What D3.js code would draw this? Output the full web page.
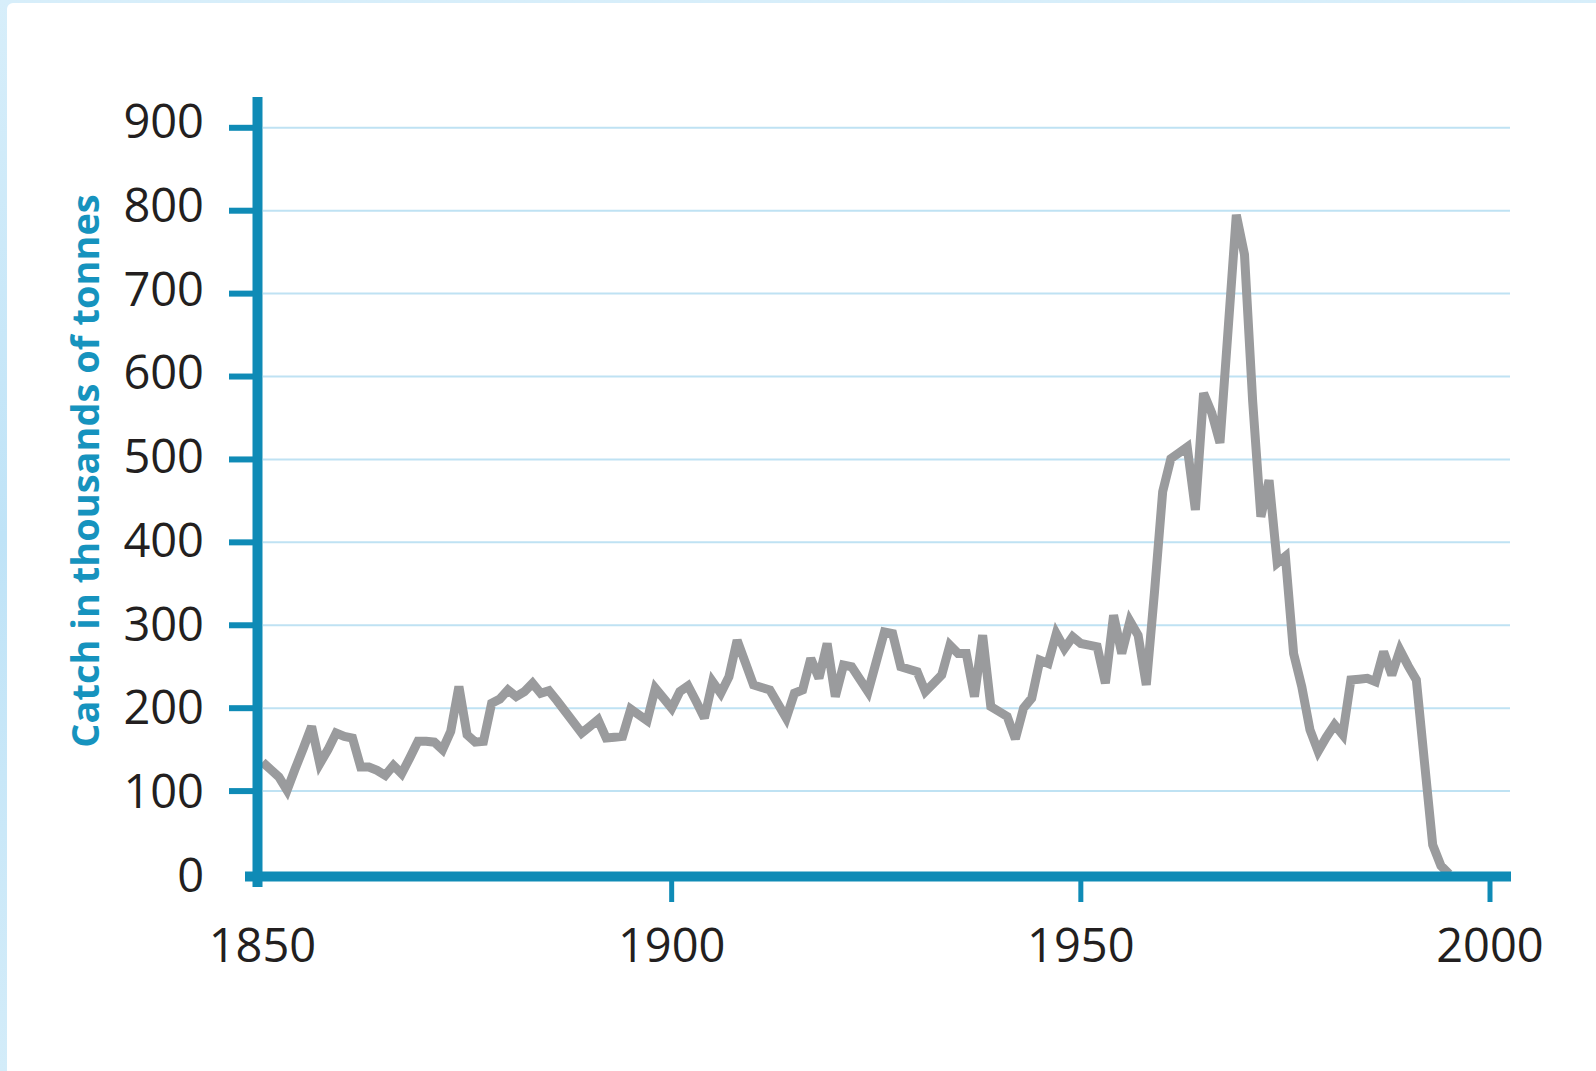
<!DOCTYPE html>
<html>
<head>
<meta charset="utf-8">
<script src="https://cdn.jsdelivr.net/npm/d3@7"></script>
<style>
	html, body { margin: 0; padding: 0; }
	body { width: 1596px; height: 1071px; overflow: hidden; background: #cfeaf8; }
</style>
</head>
<body>
<div id="chart"></div>
<script>
"use strict";

// annual catch, 1850 onwards (thousands of tonnes)
var firstYear = 1850;
var catchValues = [
	135, 126, 117, 101, 127, 152, 178, 133, 150, 170,   // 1850s
	166, 164, 129, 129, 125, 119, 131, 121, 140, 160,   // 1860s
	160, 159, 150, 172, 226, 168, 159, 160, 206, 211,   // 1870s
	222, 214, 220, 230, 218, 221, 209, 196, 183, 170,   // 1880s
	178, 186, 164, 165, 166, 199, 192, 185, 224, 212,   // 1890s
	200, 220, 227, 208, 188, 232, 218, 238, 282, 255,   // 1900s
	228, 225, 222, 205, 188, 218, 222, 260, 236, 278,   // 1910s
	214, 252, 250, 235, 220, 256, 292, 290, 250, 247,   // 1920s
	244, 220, 230, 240, 276, 266, 266, 214, 288, 202,   // 1930s
	196, 190, 163, 200, 212, 258, 254, 290, 272, 286,   // 1940s
	278, 276, 274, 230, 312, 266, 305, 288, 228, 340,   // 1950s
	461, 501, 508, 515, 439, 580, 556, 520, 657, 795,   // 1960s
	747, 570, 431, 475, 375, 383, 266, 226, 174, 148,   // 1970s
	165, 180, 168, 234, 235, 236, 232, 268, 240, 270,   // 1980s
	251, 234, 134, 35, 10, 0                            // 1990s
];
var years = d3.range(firstYear, firstYear + catchValues.length);

var yTicks = [0, 100, 200, 300, 400, 500, 600, 700, 800, 900];
var xTicks = [1850, 1900, 1950, 2000];
var yTitle = "Catch in thousands of tonnes";

const width = 1596, height = 1071;
const teal = "#0f8bb6";

let x = d3.scaleLinear().domain([1850, 2000]).range([262.5, 1490]);
let y = d3.scaleLinear().domain([0, 900]).range([874, 127.8]);
let yLabel = d3.scaleLinear().domain([0, 900]).range([892, 138]); // labels sit on their own spacing

let svg = d3.select("#chart")
	.append("svg")
	.attr("width", width)
	.attr("height", height);

let defs = svg.append("defs");
let grad = defs.append("linearGradient")
	.attr("id", "bg")
	.attr("x1", "0").attr("x2", "0").attr("y1", "0").attr("y2", "1");
grad.append("stop").attr("offset", "0").attr("stop-color", "#d7eefa");
grad.append("stop").attr("offset", "0.5").attr("stop-color", "#bfe3f7");
grad.append("stop").attr("offset", "1").attr("stop-color", "#d3ecf9");

svg.append("rect")
	.attr("width", width)
	.attr("height", height)
	.attr("fill", "url(#bg)");

svg.append("rect")	// white panel
	.attr("x", 7)
	.attr("y", 3)
	.attr("width", width)
	.attr("height", height + 20)
	.attr("rx", 6)
	.attr("fill", "#ffffff");

// grid lines
svg.selectAll("line.grid")
	.data(yTicks.filter(d => d > 0))
	.enter()
	.append("line")
		.attr("class", "grid")
		.attr("x1", 263)
		.attr("x2", 1510)
		.attr("y1", d => y(d))
		.attr("y2", d => y(d))
		.attr("stroke", "#bfe2f3")
		.attr("stroke-width", 2);

// the catch
let line = d3.line()
	.x((d, i) => x(years[i]))
	.y(d => y(d));

svg.append("path")
	.datum(catchValues)
	.attr("d", line)
	.attr("fill", "none")
	.attr("stroke", "#9a9b9d")
	.attr("stroke-width", 9)
	.attr("stroke-linejoin", "miter")
	.attr("stroke-miterlimit", 3);

// y ticks
svg.selectAll("line.ytick")
	.data(yTicks.filter(d => d > 0))
	.enter()
	.append("line")
		.attr("class", "ytick")
		.attr("x1", 229)
		.attr("x2", 257)
		.attr("y1", d => y(d))
		.attr("y2", d => y(d))
		.attr("stroke", teal)
		.attr("stroke-width", 6);

// x ticks
svg.selectAll("line.xtick")
	.data(xTicks.filter(d => d > 1850))
	.enter()
	.append("line")
		.attr("class", "xtick")
		.attr("x1", d => x(d))
		.attr("x2", d => x(d))
		.attr("y1", 876)
		.attr("y2", 902)
		.attr("stroke", teal)
		.attr("stroke-width", 5);

// axes
svg.append("line")
	.attr("x1", 245)
	.attr("x2", 1511)
	.attr("y1", y(0) + 2.5)
	.attr("y2", y(0) + 2.5)
	.attr("stroke", teal)
	.attr("stroke-width", 10);

svg.append("line")
	.attr("x1", 257.5)
	.attr("x2", 257.5)
	.attr("y1", 97)
	.attr("y2", 887)
	.attr("stroke", teal)
	.attr("stroke-width", 10);

// labels
svg.selectAll("text.ylab")
	.data(yTicks)
	.enter()
	.append("text")
		.attr("class", "ylab")
		.attr("x", 204)
		.attr("y", d => yLabel(d))
		.attr("text-anchor", "end")
		.style("font-family", "'Open Sans', sans-serif")
		.style("font-size", "47px")
		.style("fill", "#231f20")
		.text(d => d);

svg.selectAll("text.xlab")
	.data(xTicks)
	.enter()
	.append("text")
		.attr("class", "xlab")
		.attr("x", d => x(d))
		.attr("y", 962)
		.attr("text-anchor", "middle")
		.style("font-family", "'Open Sans', sans-serif")
		.style("font-size", "47px")
		.style("fill", "#231f20")
		.text(d => d);

svg.append("text")
	.attr("transform", "translate(99,471) rotate(-90)")
	.attr("text-anchor", "middle")
	.style("font-family", "'Open Sans', sans-serif")
	.style("font-weight", "bold")
	.style("font-size", "38px")
	.style("fill", "#1693be")
	.text(yTitle);
</script>
</body>
</html>
